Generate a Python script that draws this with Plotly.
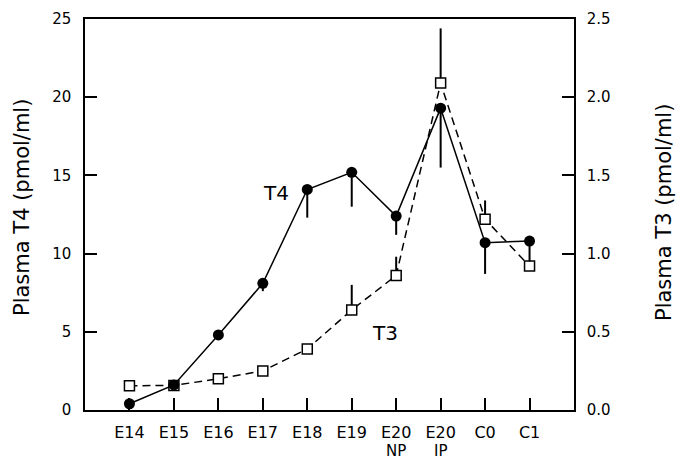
import plotly.graph_objects as go

categories = ["E14", "E15", "E16", "E17", "E18", "E19", "E20", "E20", "C0", "C1"]
category_sublabels = ["", "", "", "", "", "", "NP", "IP", "", ""]
t4_values = [0.4, 1.6, 4.8, 8.1, 14.1, 15.2, 12.4, 19.3, 10.7, 10.8]
t4_err_minus = [0, 0, 0, 0.5, 1.8, 2.2, 1.2, 3.8, 2.0, 1.3]
t3_values = [0.155, 0.157, 0.20, 0.25, 0.39, 0.64, 0.86, 2.09, 1.22, 0.92]
t3_err_plus = [0, 0, 0, 0, 0, 0.16, 0.12, 0.35, 0.12, 0]
left_ticks = [0, 5, 10, 15, 20, 25]
right_ticks = [0.0, 0.5, 1.0, 1.5, 2.0, 2.5]
right_ticktext = ["0.0", "0.5", "1.0", "1.5", "2.0", "2.5"]

xs = list(range(len(categories)))
FONT = "DejaVu Sans, Liberation Sans, Arial, sans-serif"

L, R, T, B = 85, 103, 19, 51
W, H = 677, 461
pw = W - L - R
ph = H - T - B

fig = go.Figure()

# T3 on base y axis (right side)
fig.add_trace(go.Scatter(
    x=xs, y=t3_values, mode="lines", name="T3",
    line=dict(color="black", width=1.5, dash="8px,5px"),
    error_y=dict(type="data", symmetric=False, array=t3_err_plus,
                 arrayminus=[0] * len(t3_values), width=0, thickness=2, color="black"),
    yaxis="y",
))
fig.add_trace(go.Scatter(
    x=xs, y=t3_values, mode="markers", showlegend=False, hoverinfo="skip",
    marker=dict(symbol="square", size=10, color="white",
                line=dict(color="black", width=1.5)),
    yaxis="y",
))
# T4 on overlaying axis (left side), drawn on top
fig.add_trace(go.Scatter(
    x=xs, y=t4_values, mode="lines+markers", name="T4",
    line=dict(color="black", width=1.5),
    marker=dict(symbol="circle", size=11, color="black"),
    error_y=dict(type="data", symmetric=False, array=[0] * len(t4_values),
                 arrayminus=t4_err_minus, width=0, thickness=2, color="black"),
    yaxis="y2",
))

annotations = [
    dict(x=(22 - L) / pw, y=(H - B - 208) / ph, xref="paper", yref="paper",
         text="Plasma T4 (pmol/ml)", textangle=-90, showarrow=False,
         xanchor="center", yanchor="middle",
         font=dict(size=21, family=FONT, color="black")),
    dict(x=(664 - L) / pw, y=(H - B - 213) / ph, xref="paper", yref="paper",
         text="Plasma T3 (pmol/ml)", textangle=-90, showarrow=False,
         xanchor="center", yanchor="middle",
         font=dict(size=21, family=FONT, color="black")),
    dict(x=3.30, y=13.9, xref="x", yref="y2", text="T4", showarrow=False,
         font=dict(size=20, family=FONT, color="black")),
    dict(x=5.75, y=4.9, xref="x", yref="y2", text="T3", showarrow=False,
         font=dict(size=20, family=FONT, color="black")),
]
for xi, sub in zip(xs, category_sublabels):
    if sub:
        annotations.append(dict(
            x=xi, y=0, xref="x", yref="paper", text=sub, showarrow=False,
            xanchor="center", yanchor="middle", yshift=-41, borderpad=0,
            font=dict(size=15, family=FONT, color="black")))

fig.update_layout(
    width=W, height=H,
    margin=dict(l=L, r=R, t=T, b=B),
    paper_bgcolor="white", plot_bgcolor="white",
    showlegend=False,
    font=dict(family=FONT, color="black"),
    xaxis=dict(
        range=[-1, 10], tickvals=xs, ticktext=categories, automargin=False,
        showline=True, linecolor="black", linewidth=1.5, mirror=True,
        ticks="inside", ticklen=12, tickwidth=1.5, tickcolor="black",
        showgrid=False, zeroline=False,
        tickfont=dict(size=16, family=FONT), ticklabelstandoff=7,
    ),
    yaxis=dict(
        range=[0, 2.5], side="right", tickvals=right_ticks, ticktext=right_ticktext,
        automargin=False,
        showline=True, linecolor="black", linewidth=1.5,
        ticks="inside", ticklen=12, tickwidth=1.5, tickcolor="black",
        showgrid=False, zeroline=False,
        tickfont=dict(size=15, family=FONT), ticklabelstandoff=8,
    ),
    yaxis2=dict(
        range=[0, 25], side="left", overlaying="y", tickvals=left_ticks,
        automargin=False,
        showline=True, linecolor="black", linewidth=1.5,
        ticks="inside", ticklen=12, tickwidth=1.5, tickcolor="black",
        showgrid=False, zeroline=False,
        tickfont=dict(size=15, family=FONT), ticklabelstandoff=9,
    ),
    annotations=annotations,
)

fig.write_html("out.html")
